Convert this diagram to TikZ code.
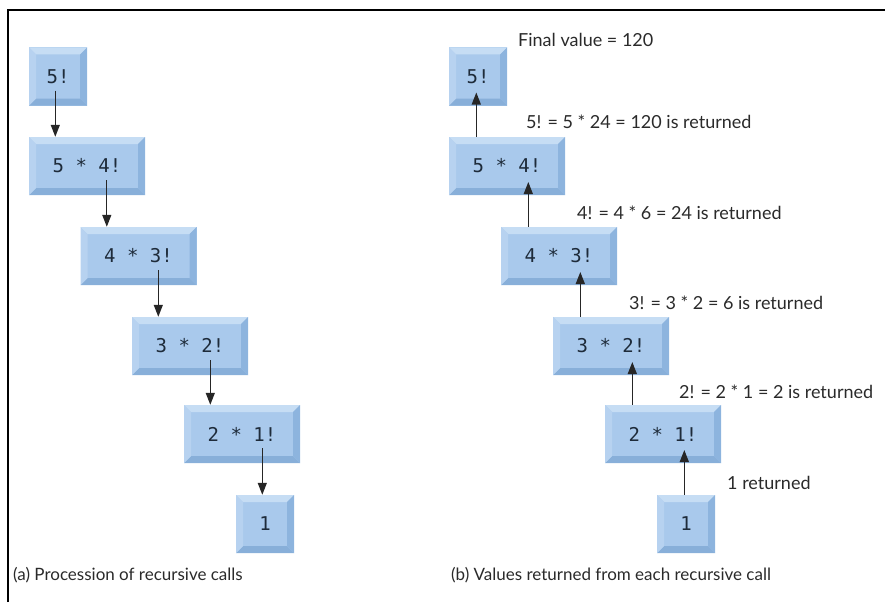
\documentclass[tikz,border=0pt]{standalone}
\usepackage{fontspec}
\setmainfont{Lato}
\newfontfamily\boxfont{DejaVu Sans Mono}
\usetikzlibrary{calc,arrows.meta}
\definecolor{bface}{HTML}{A9C9EC}
\definecolor{btop}{HTML}{C6DDF4}
\definecolor{bleft}{HTML}{B7D2F0}
\definecolor{bright}{HTML}{8DB4DE}
\definecolor{bbottom}{HTML}{88AFD9}
\definecolor{btext}{HTML}{1E2B3A}
\definecolor{ltext}{HTML}{2A2A2A}
\tikzset{
  bevbox/.style={rectangle, inner sep=0pt, minimum height=58pt, minimum width=#1,
    fill=bface, text=btext, font=\boxfont\fontsize{19}{19}\selectfont,
    path picture={
      \def\pb{path picture bounding box}
      \fill[btop] (\pb.north west) -- (\pb.north east) -- ($(\pb.north east)+(-7,7)$) -- ($(\pb.north west)+(7,7)$) -- cycle;
      \fill[bbottom] (\pb.south west) -- (\pb.south east) -- ($(\pb.south east)+(-7,-7)$) -- ($(\pb.south west)+(7,-7)$) -- cycle;
      \fill[bleft] (\pb.north west) -- ($(\pb.north west)+(7,7)$) -- ($(\pb.south west)+(7,-7)$) -- (\pb.south west) -- cycle;
      \fill[bright] (\pb.north east) -- ($(\pb.north east)+(-7,7)$) -- ($(\pb.south east)+(-7,-7)$) -- (\pb.south east) -- cycle;
    }},
  arr/.style={draw=black!85, line width=1.3pt, -{Triangle[length=12pt,width=9pt]}},
  lab/.style={anchor=west, inner sep=0pt, text=ltext, font=\fontsize{18}{18}\selectfont},
  captext/.style={anchor=west, inner sep=0pt, text=ltext, font=\fontsize{17}{17}\selectfont},
  frameline/.style={draw=black, line width=2pt}
}
\begin{document}
\begin{tikzpicture}[x=1pt,y=-1pt]
\useasboundingbox (0,0) rectangle (885,602);
\coordinate (fa) at (8,602);
\coordinate (fb) at (8,10);
\coordinate (fc) at (885,10);
\draw[frameline] (fa) -- (fb) -- (fc);
% left column
\node[bevbox=58pt]  (L5) at (58,76.5) {5!};
\node[bevbox=116pt] (L4) at (87,166) {5 * 4!};
\node[bevbox=116pt] (L3) at (138.5,256) {4 * 3!};
\node[bevbox=116pt] (L2) at (190,346) {3 * 2!};
\node[bevbox=116pt] (L1) at (242,434) {2 * 1!};
\node[bevbox=58pt]  (L0) at (265,524) {1};
% right column
\node[bevbox=58pt]  (R5) at (478,76.5) {5!};
\node[bevbox=116pt] (R4) at (507,166) {5 * 4!};
\node[bevbox=116pt] (R3) at (559,256) {4 * 3!};
\node[bevbox=116pt] (R2) at (611,346) {3 * 2!};
\node[bevbox=116pt] (R1) at (663,434) {2 * 1!};
\node[bevbox=58pt]  (R0) at (686,524) {1};
% left arrows (calls)
\foreach \a/\b in {L5/L4,L4/L3,L3/L2,L2/L1,L1/L0}{
  \coordinate (t\b) at ($(\b.north west)+(26.5,0)$);
  \draw[arr] ($(t\b |- \a.center)+(0,14)$) -- (t\b);
}
% right arrows (returns)
\foreach \a/\b in {R4/R5,R3/R4,R2/R3,R1/R2,R0/R1}{
  \coordinate (s\a) at ($(\a.north west)+(27.5,0)$);
  \draw[arr] (s\a) -- ($(s\a |- \b.center)+(0,16)$);
}
% labels
\node[lab] (fv) at (518,40) {Final value = 120};
\node[lab] (r5) at (526,122) {5! = 5 * 24 = 120 is returned};
\node[lab] (r4) at (577,213) {4! = 4 * 6 = 24 is returned};
\node[lab] (r3) at (629,303) {3! = 3 * 2 = 6 is returned};
\node[lab] (r2) at (679,392) {2! = 2 * 1 = 2 is returned};
\node[lab] (r1) at (727,483) {1 returned};
\node[captext] (ca) at (13,575) {(a) Procession of recursive calls};
\node[captext] (cb) at (451,575) {(b) Values returned from each recursive call};
\end{tikzpicture}
\end{document}
